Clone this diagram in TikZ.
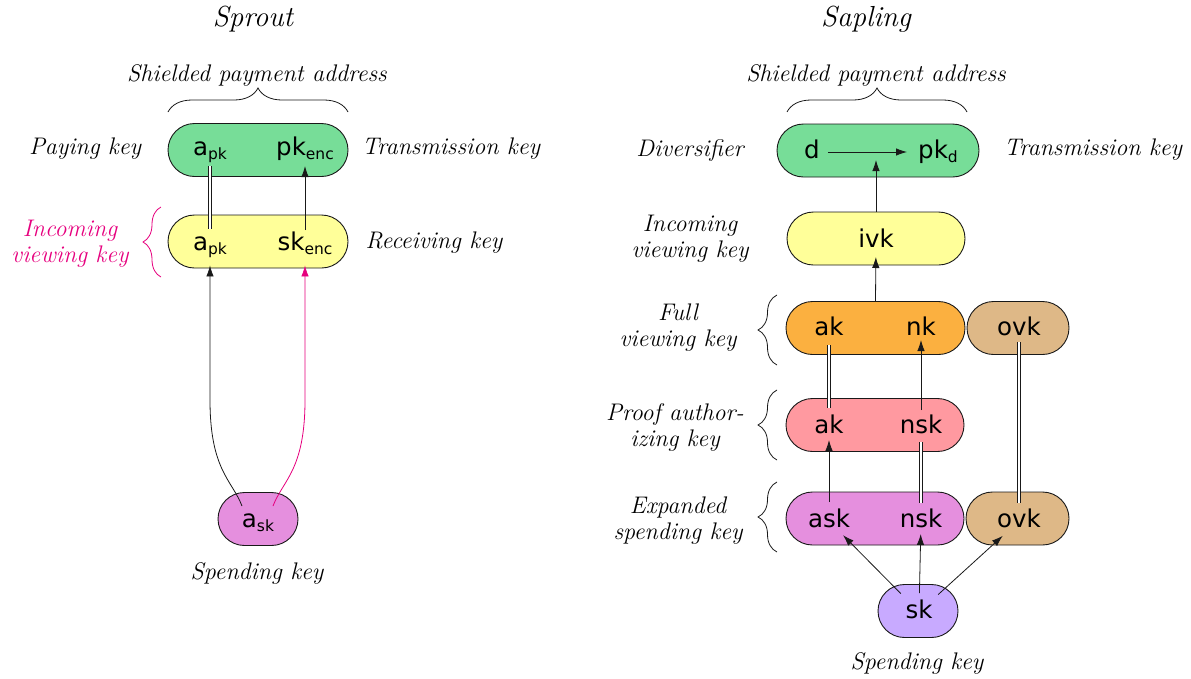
\documentclass[tikz,border=0pt]{standalone}
\usepackage{fontspec}
\newfontfamily\keyfont{DejaVu Sans}
\usetikzlibrary{shapes.misc,arrows.meta,decorations.pathreplacing,calc}
\definecolor{kgreen}{RGB}{119,221,152}
\definecolor{kyellow}{RGB}{255,255,153}
\definecolor{korange}{RGB}{251,176,64}
\definecolor{ktan}{RGB}{222,184,135}
\definecolor{kpink}{RGB}{255,153,160}
\definecolor{kviolet}{RGB}{229,143,222}
\definecolor{klav}{RGB}{200,170,255}
\definecolor{kmag}{RGB}{230,0,126}
\definecolor{kline}{RGB}{25,25,25}
\newcommand{\ksub}[2]{#1\raisebox{-4.5pt}{\fontsize{15.5}{15.5}\selectfont #2}}
\begin{document}
\begin{tikzpicture}[x=1pt,y=-1pt,
  box/.style={rounded rectangle, draw=kline, line width=0.9pt, inner sep=0pt, minimum height=53pt},
  key/.style={font=\keyfont\fontsize{24.5}{24.5}\selectfont, inner sep=0pt, text height=18pt, text depth=6pt},
  lab/.style={font=\itshape\fontsize{24}{26}\selectfont, align=center, inner sep=0pt},
  ttl/.style={font=\itshape\fontsize{29}{32}\selectfont, inner sep=0pt},
  arr/.style={draw=kline, line width=0.8pt, -{Latex[length=11pt,width=7.5pt]}},
  dbl/.style={draw=kline, line width=0.6pt, double=white, double distance=2pt},
  br/.style={decorate, decoration={brace, amplitude=#1}, line width=0.8pt, draw=kline},
]
\useasboundingbox (0,0) rectangle (1191,678);

% ---------- Sprout ----------
\node[ttl] (tsprout) at (253,19) {Sprout};
\node[lab] (lspa) at (257,75) {Shielded payment address};
\draw[br=24pt] (168,112) -- (348,112);

\node[box, fill=kgreen, minimum width=180pt] (lgbox) at (258,150) {};
\node[box, fill=kyellow, minimum width=180pt] (lybox) at (258,241.5) {};
\node[box, fill=kviolet, minimum width=80pt] (lskbox) at (258,519) {};

\node[lab] (lpay) at (85,149) {Paying key};
\node[lab] (ltrans) at (451,149) {Transmission key};
\node[lab] (lrecv) at (434,243) {Receiving key};
\node[lab, text=kmag] (livk) at (70,244) {Incoming\\viewing key};
\draw[br=18pt, draw=kmag] (161,277) -- (161,207);
\node[lab] (lspend) at (257,573) {Spending key};

\node[key] (lapkA) at (210,149) {\ksub{a}{pk}};
\node[key] (lpkenc) at (305,149) {\ksub{pk}{enc}};
\node[key] (lapkB) at (210,244) {\ksub{a}{pk}};
\node[key] (lskenc) at (305,244) {\ksub{sk}{enc}};
\node[key] (lask) at (258,521) {\ksub{a}{sk}};

\draw[dbl, shorten <=17pt, shorten >=15pt] (lapkA.center) -- (lapkB.center);
\draw[arr, shorten <=14pt, shorten >=17pt] (lskenc.center) -- (lpkenc.center);
\draw[arr, shorten >=-3pt] ($(lask.center)+(-16,-15)$) .. controls +(-10,-26) and +(0,70) .. ($(lapkB.center)+(0,156)$) -- (lapkB.center |- lybox.south);
\draw[arr, draw=kmag, shorten >=-3pt] ($(lask.center)+(15,-15)$) .. controls +(10,-26) and +(0,70) .. ($(lskenc.center)+(0,156)$) -- (lskenc.center |- lybox.south);

% ---------- Sapling ----------
\node[ttl] (tsap) at (866,19) {Sapling};
\node[lab] (rspa) at (876,75) {Shielded payment address};
\draw[br=24pt] (787,112) -- (967,112);

\node[box, fill=kgreen, minimum width=202pt] (rgbox) at (878,150.5) {};
\node[box, fill=kyellow, minimum width=178pt] (rybox) at (876,238.5) {};
\node[box, fill=korange, minimum width=179pt] (fvkbox) at (875.5,328) {};
\node[box, fill=ktan, minimum width=102pt] (ovkfbox) at (1018,328) {};
\node[box, fill=kpink, minimum width=178pt] (pakbox) at (875,425) {};
\node[box, fill=kviolet, minimum width=178pt] (eskbox) at (875,518.5) {};
\node[box, fill=ktan, minimum width=103pt] (ovkebox) at (1017.5,518.5) {};
\node[box, fill=klav, minimum width=80pt] (skbox) at (918,611) {};

\node[lab] (rdiv) at (690,150) {Diversifier};
\node[lab] (rtrans) at (1093,150) {Transmission key};
\node[lab] (rivkl) at (690,239) {Incoming\\viewing key};
\node[lab] (rfvk) at (678,328) {Full\\viewing key};
\node[lab] (rpak) at (675,427) {Proof author-\\izing key};
\node[lab] (resk) at (678,521) {Expanded\\spending key};
\node[lab] (rspend) at (917,663) {Spending key};
\draw[br=19pt] (777,365) -- (777,295);
\draw[br=19pt] (777,460) -- (777,390);
\draw[br=19pt] (777,552) -- (777,482);

\node[key] (rd) at (812,152) {d};
\node[key] (rpkd) at (938,152) {\ksub{pk}{d}};
\node[key] (rivk) at (876,241) {ivk};
\node[key] (fak) at (829,329) {ak};
\node[key] (fnk) at (921,329) {nk};
\node[key] (fovk) at (1019,329) {ovk};
\node[key] (pak) at (829,427) {ak};
\node[key] (pnsk) at (921,427) {nsk};
\node[key] (eask) at (829,521) {ask};
\node[key] (ensk) at (921,521) {nsk};
\node[key] (eovk) at (1019,521) {ovk};
\node[key] (rsk) at (919,612) {sk};

\draw[arr, shorten <=8pt, shorten >=11pt] (rd.east) -- (rd.east -| rpkd.west);
\draw[arr, shorten >=8pt] (rybox.north) -- (rybox.north |- rd.center);
\draw[arr, shorten >=16pt] (fvkbox.north) -- (rivk.center);
\draw[dbl, shorten <=16pt, shorten >=19pt] (fak.center) -- (pak.center);
\draw[arr, shorten <=17pt, shorten >=11pt] (pnsk.center) -- (fnk.center);
\draw[arr, shorten <=19pt, shorten >=13pt] (eask.center) -- (pak.center);
\draw[dbl, shorten <=15pt, shorten >=18pt] (pnsk.center) -- (ensk.center);
\draw[dbl, shorten <=13pt, shorten >=18pt] (fovk.center) -- (eovk.center);
\draw[arr, shorten <=26pt, shorten >=20pt] (rsk.center) -- (eask.center);
\draw[arr, shorten <=19pt, shorten >=13pt] (rsk.center) -- (ensk.center);
\draw[arr, shorten <=26pt, shorten >=22pt] (rsk.center) -- (eovk.center);
\end{tikzpicture}
\end{document}
